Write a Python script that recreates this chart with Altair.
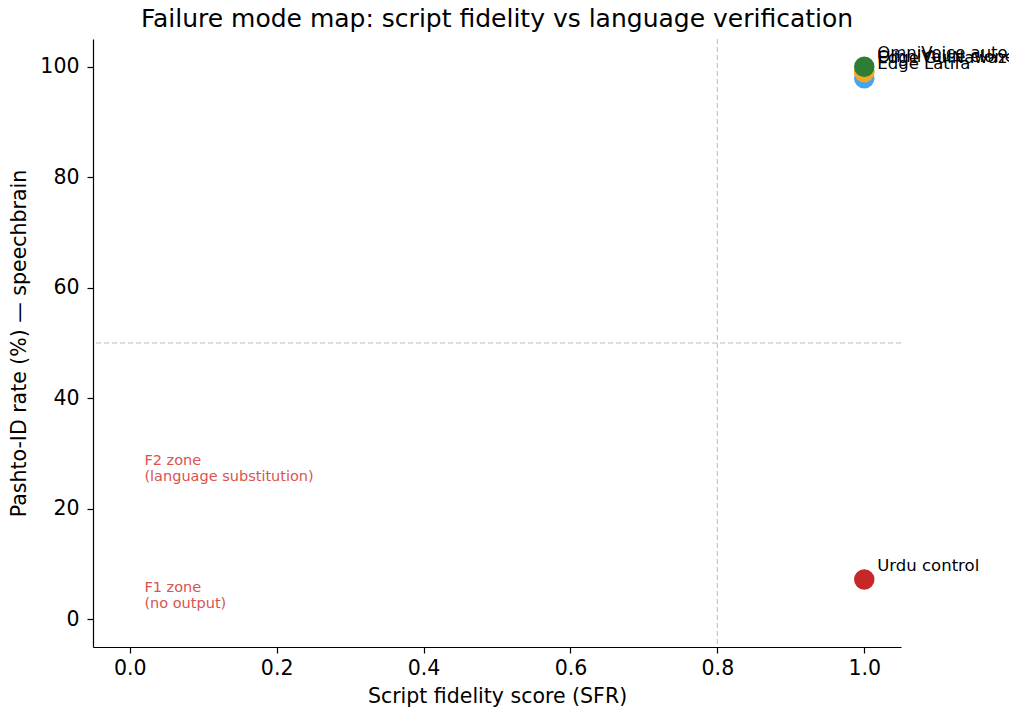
import altair as alt
import pandas as pd

systems = ["Edge Latifa", "Edge GulNawaz", "OmniVoice clone", "OmniVoice auto", "Urdu control"]
sfr = [1.0, 1.0, 1.0, 1.0, 1.0]
pashto_id = [97.9, 99.0, 99.2, 100.0, 7.2]
colors = ["#42a5f5", "#f5a623", "#f5a623", "#2e7d32", "#c62828"]

zone_text = ["F2 zone\n(language substitution)", "F1 zone\n(no output)"]
zone_x = [0.02, 0.02]
zone_y = [30.0, 7.0]

df = pd.DataFrame({"system": systems, "sfr": sfr, "pid": pashto_id, "color": colors})
zones = pd.DataFrame({"text": zone_text, "x": zone_x, "y": zone_y})

FONT = "DejaVu Sans"
xscale = alt.Scale(domain=[-0.05, 1.05], nice=False, zero=False)
yscale = alt.Scale(domain=[-5, 105], nice=False, zero=False)

xenc = alt.X("sfr:Q", scale=xscale,
             axis=alt.Axis(title="Script fidelity score (SFR)", values=[0, 0.2, 0.4, 0.6, 0.8, 1.0],
                           format=".1f", grid=False, tickSize=6, labelPadding=5,
                           labelFontSize=20.5, titleFontSize=20.5, titleFontWeight="normal",
                           titlePadding=8, domainColor="#000", tickColor="#000",
                           labelColor="#000", titleColor="#000", labelFont=FONT, titleFont=FONT))
yenc = alt.Y("pid:Q", scale=yscale,
             axis=alt.Axis(title="Pashto-ID rate (%) — speechbrain", values=[0, 20, 40, 60, 80, 100],
                           grid=False, tickSize=6, labelPadding=8,
                           labelFontSize=20.5, titleFontSize=20.5, titleFontWeight="normal",
                           titlePadding=10, domainColor="#000", tickColor="#000",
                           labelColor="#000", titleColor="#000", labelFont=FONT, titleFont=FONT))

vline = alt.Chart(pd.DataFrame({"v": [0.8]})).mark_rule(
    color="#bbbbbb", strokeDash=[5, 3], strokeWidth=1
).encode(x=alt.X("v:Q", scale=xscale))

hline = alt.Chart(pd.DataFrame({"h": [50]})).mark_rule(
    color="#bbbbbb", strokeDash=[5, 3], strokeWidth=1
).encode(y=alt.Y("h:Q", scale=yscale))

points = alt.Chart(df).mark_circle(size=420, opacity=1).encode(
    x=xenc, y=yenc, color=alt.Color("color:N", scale=None)
)

labels = alt.Chart(df).mark_text(
    align="left", baseline="alphabetic", dx=13, dy=-9, fontSize=16.5, font=FONT, color="#000"
).encode(x=alt.X("sfr:Q", scale=xscale), y=alt.Y("pid:Q", scale=yscale), text="system:N")

zone_marks = alt.Chart(zones).mark_text(
    align="left", baseline="top", fontSize=14.5, font=FONT, color="#d9534f", lineBreak="\n",
    lineHeight=16
).encode(x=alt.X("x:Q", scale=xscale), y=alt.Y("y:Q", scale=yscale), text="text:N")

chart = alt.layer(vline, hline, points, labels, zone_marks).properties(
    width=808, height=608,
    title=alt.TitleParams("Failure mode map: script fidelity vs language verification",
                          fontSize=25, font=FONT, fontWeight="normal", color="#000",
                          anchor="middle", offset=7),
    autosize=alt.AutoSizeParams(type="none"),
    padding={"left": 85, "top": 31, "right": 108, "bottom": 60},
).configure_view(stroke=None).configure_axis(domainWidth=1.2, tickWidth=1.2)

chart.save("out.html", embed_options={"renderer": "svg", "actions": False})
